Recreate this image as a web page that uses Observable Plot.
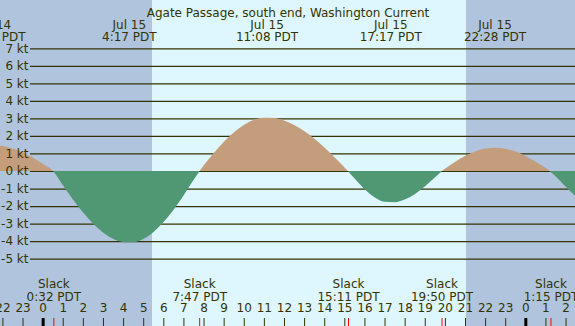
<!DOCTYPE html>
<html>
<head>
<meta charset="utf-8">
<script src="https://cdn.jsdelivr.net/npm/d3@7"></script>
<script src="https://cdn.jsdelivr.net/npm/@observablehq/plot@0.6"></script>
<style>
  html, body { margin: 0; padding: 0; background: #ffffff; }
  svg { display: block; }
</style>
</head>
<body>
<div id="chart"></div>
<script>
// Hours relative to Jul 15 00:00 PDT
const hours = [-2.5, -2, -1.5, -1, -0.5, 0, 0.5, 1, 1.5, 2, 2.5, 3, 3.5, 4, 4.5, 5, 5.5, 6, 6.5, 7, 7.5,
  8, 8.5, 9, 9.5, 10, 10.5, 11, 11.5, 12, 12.5, 13, 13.5, 14, 14.5, 15, 15.5, 16, 16.5, 17, 17.5, 18,
  18.5, 19, 19.5, 20, 20.5, 21, 21.5, 22, 22.5, 23, 23.5, 24, 24.5, 25, 25.5, 26, 26.5];
const knots = [1.45, 1.42, 1.29, 1.07, 0.77, 0.41, 0.02, -0.80, -1.61, -2.36, -3.00, -3.51, -3.87, -4.05, -4.06,
  -3.88, -3.49, -2.93, -2.22, -1.41, -0.52, 0.31, 1.01, 1.65, 2.20, 2.63, 2.92, 3.04, 3.02, 2.88, 2.63,
  2.28, 1.85, 1.35, 0.80, 0.22, -0.42, -1.03, -1.50, -1.76, -1.78, -1.63, -1.32, -0.88, -0.37, 0.13,
  0.51, 0.85, 1.11, 1.28, 1.33, 1.27, 1.12, 0.86, 0.54, 0.18, -0.30, -0.89, -1.45];

// Max current events (top labels)
const maxTimes = [-2.42, 4.283, 11.133, 17.283, 22.467];
const maxDates = ["Jul 14", "Jul 15", "Jul 15", "Jul 15", "Jul 15"];
const maxLabels = ["21:35 PDT", "4:17 PDT", "11:08 PDT", "17:17 PDT", "22:28 PDT"];

// Slack events (bottom labels)
const slackTimes = [0.533, 7.783, 15.183, 19.833, 25.25];
const slackLabels = ["0:32 PDT", "7:47 PDT", "15:11 PDT", "19:50 PDT", "1:15 PDT"];

// Day / night
const sunrise = 5.45, sunset = 21.05;
const periodStart = [-2.2, 5.45, 21.05];
const periodEnd = [5.45, 21.05, 26.6];
const periodFill = ["#b0c4de", "#def7fe", "#b0c4de"];

// Axis ticks
const yTicks = [-5, -4, -3, -2, -1, 0, 1, 2, 3, 4, 5, 6, 7];
const hourTicks = [-2, -1, 0, 1, 2, 3, 4, 5, 6, 7, 8, 9, 10, 11, 12, 13, 14, 15, 16, 17, 18, 19, 20, 21, 22, 23, 24, 25, 26];
const hourLabels = ["22", "23", "0", "1", "2", "3", "4", "5", "6", "7", "8", "9", "10", "11", "12", "13", "14", "15", "16", "17", "18", "19", "20", "21", "22", "23", "0", "1", "2"];
const midnights = [0, 24];

const title = "Agate Passage, south end, Washington Current";

const series = hours.map((h, i) => ({h, v: knots[i]}));
const periods = periodStart.map((s, i) => ({s, e: periodEnd[i], fill: periodFill[i]}));
const maxes = maxTimes.map((t, i) => ({t, date: maxDates[i], label: maxLabels[i]}));
const slacks = slackTimes.map((t, i) => ({t, label: slackLabels[i]}));
const hticks = hourTicks.map((t, i) => ({t, label: hourLabels[i]}));

const ink = "#333300";
const font = "DejaVu Sans, sans-serif";

const chart = Plot.plot({
  width: 575,
  height: 326,
  marginTop: 0, marginRight: 0, marginBottom: 0, marginLeft: 0,
  style: {fontFamily: font, fontSize: "12px", background: "#ffffff", overflow: "hidden"},
  x: {domain: [-2.12, 26.47], axis: null},
  y: {domain: [-8.842, 9.755], axis: null},
  marks: [
    Plot.rect(periods, {x1: "s", x2: "e", fill: "fill"}),
    Plot.ruleY(yTicks, {stroke: ink, strokeWidth: 1.2, insetLeft: 30}),
    Plot.areaY(series, {x: "h", y1: 0, y2: "v", fill: "#c49e7c", curve: "monotone-x"}),
    Plot.areaY(series, {x: "h", y1: 0, y2: "v", fill: "#4f9873", curve: "monotone-x"}),
    Plot.text(yTicks, {y: d => d, text: d => `${d} kt`, frameAnchor: "left", dx: 28, textAnchor: "end", fill: ink, fontSize: 12}),
    Plot.text([title], {text: d => d, frameAnchor: "top", dy: 8, fill: ink, fontSize: 12}),
    Plot.text(maxes, {x: "t", text: "date", frameAnchor: "top", dy: 20, fill: ink, fontSize: 12}),
    Plot.text(maxes, {x: "t", text: "label", frameAnchor: "top", dy: 32, fill: ink, fontSize: 12}),
    Plot.text(slacks, {x: "t", text: () => "Slack", frameAnchor: "bottom", dy: -39, fill: ink, fontSize: 12}),
    Plot.text(slacks, {x: "t", text: "label", frameAnchor: "bottom", dy: -26, fill: ink, fontSize: 12}),
    Plot.text(hticks, {x: "t", text: "label", frameAnchor: "bottom", dy: -14.5, fill: ink, fontSize: 12}),
    Plot.ruleX(hticks, {x: "t", stroke: ink, strokeWidth: 1, insetTop: 318}),
    Plot.ruleX(midnights, {x: d => d, stroke: "#000000", strokeWidth: 3, insetTop: 318}),
    Plot.ruleX(slackTimes, {x: d => d, stroke: "#ff0000", strokeWidth: 1, insetTop: 318})
  ]
});

// Clip flood (above zero) and ebb (below zero) fills
const y0 = chart.scale("y").apply(0);
const svg = d3.select(chart);
const defs = svg.insert("defs", ":first-child");
defs.append("clipPath").attr("id", "clip-flood")
  .append("rect").attr("x", 0).attr("y", 0).attr("width", 575).attr("height", y0);
defs.append("clipPath").attr("id", "clip-ebb")
  .append("rect").attr("x", 0).attr("y", y0).attr("width", 575).attr("height", 326 - y0);
const areas = svg.selectAll('g[aria-label="area"]').nodes();
d3.select(areas[0]).attr("clip-path", "url(#clip-flood)");
d3.select(areas[1]).attr("clip-path", "url(#clip-ebb)");

document.getElementById("chart").appendChild(chart);
</script>
</body>
</html>
